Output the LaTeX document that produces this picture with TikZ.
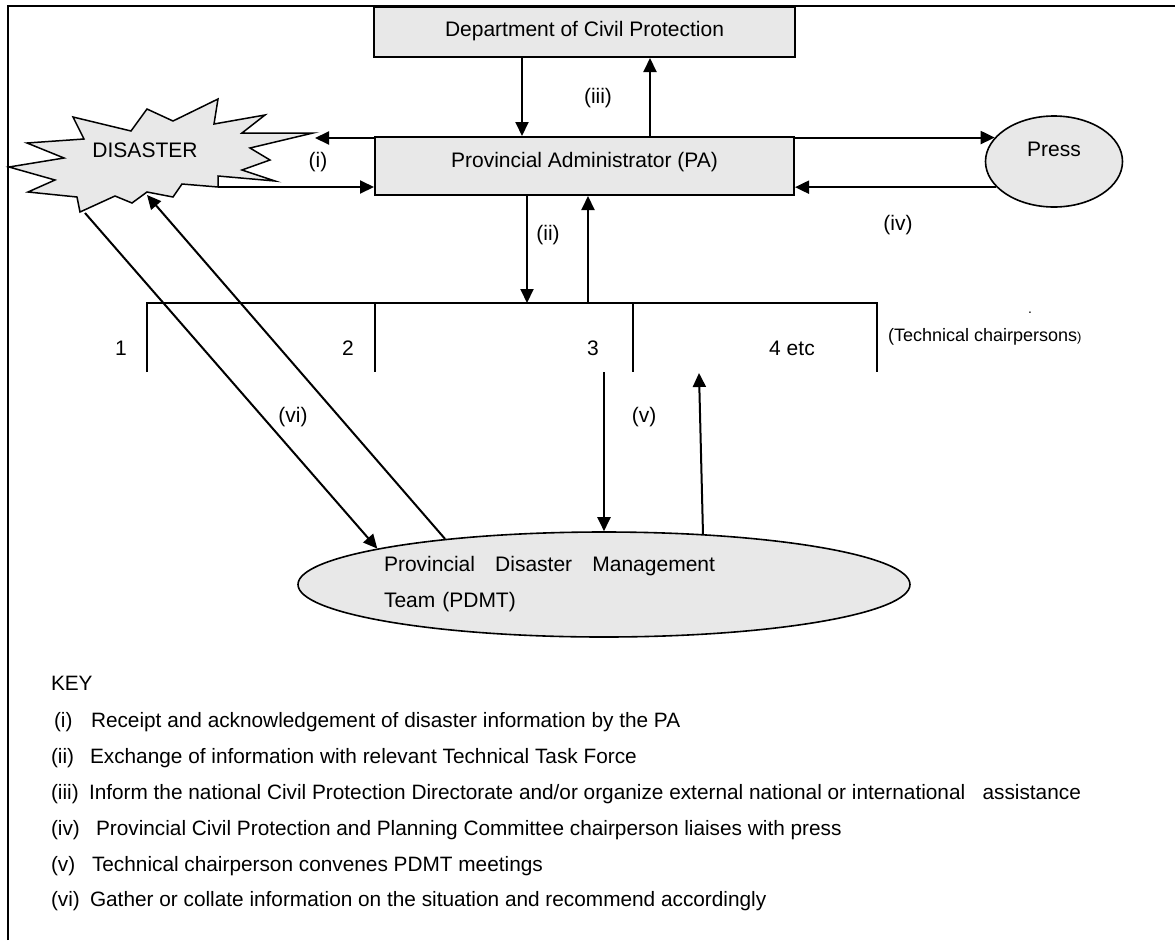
\documentclass[tikz,border=0pt]{standalone}
\usepackage{fontspec}
\setmainfont{Liberation Sans}
\usetikzlibrary{arrows.meta,shapes.geometric}
\definecolor{boxgray}{HTML}{E8E8E8}

\begin{document}
\begin{tikzpicture}[x=1pt,y=-1pt,
  line width=2pt,
  dtext/.style={font=\fontsize{21}{25}\selectfont},
  ktext/.style={font=\fontsize{20.8}{24}\selectfont, anchor=base west, inner sep=0pt},
  gbox/.style={draw, fill=boxgray, rectangle, inner sep=0pt, dtext},
  gell/.style={draw, fill=boxgray, ellipse, inner sep=0pt, line width=1.6pt, dtext},
  arr/.style={-{Triangle[length=14pt,width=13pt]}},
  lbl/.style={dtext, inner sep=0pt}
]
\useasboundingbox (0,0) rectangle (1175,940);

% frame (top and left edges only)
\draw (8,940) -- (8,6) -- (1175,6);

% boxes
\node[gbox, minimum width=421pt, text height=29.5pt, text depth=20.5pt]
  (dcp) at (584.5,32) {Department of Civil Protection};
\node[gbox, minimum width=419pt, text height=30.5pt, text depth=27.5pt]
  (pa) at (584.5,166) {Provincial Administrator (PA)};
\node[gell, minimum width=137pt, minimum height=91pt, text height=4pt, text depth=14pt]
  (press) at (1054,161.5) {Press};
\node[gell, minimum width=612pt, minimum height=105pt, text width=416pt, align=left,
  font=\fontsize{21}{36}\selectfont]
  (pdmt) at (604,584.5)
  {\hspace*{-12pt}\hbox to 331pt{Provincial\hfill Disaster\hfill Management}\\
   \hspace*{-12pt}Team (PDMT)};

% disaster starburst
\draw[fill=boxgray, line width=1.5pt, line join=miter]
  (9,167) -- (64,158) -- (27,143) -- (84,139) -- (73,117) -- (131,131)
  -- (147,109) -- (173,121) -- (218,99) -- (214,124) -- (265,115) -- (242,133)
  -- (313,133) -- (250,148) -- (270,160) -- (242,170) -- (275,181) -- (218,176)
  -- (218,187) -- (182,184) -- (173,197) -- (147,192) -- (132,203) -- (115,196)
  -- (80,212) -- (77,197) -- (28,192) -- (55,180) -- cycle;
\node[lbl] (dis) at (145,150) {DISASTER};

% anchor points
\coordinate (dR)  at (315,138);
\coordinate (dB)  at (218,187);
\coordinate (dBL) at (85,213);
\coordinate (dBot) at (147,195);
\coordinate (xa) at (522,0);
\coordinate (xb) at (650,0);
\coordinate (xc) at (527,0);
\coordinate (xd) at (588,0);
\coordinate (tl) at (147,303);
\coordinate (tr) at (877,303);
\coordinate (t2) at (375,303);
\coordinate (t3) at (633,303);
\coordinate (vd) at (604,372);
\coordinate (vu) at (699,373);

% chairperson bracket
\draw (147,372) -- (tl) -- (tr) -- (877,372);
\draw (t2) -- (375,372);
\draw (t3) -- (633,372);

% connectors
\draw[arr] (dcp.south -| xa) -- (pa.north -| xa);
\draw[arr] (pa.north -| xb) -- (dcp.south -| xb);
\draw[arr] (pa.west |- dR) -- (dR);
\draw[arr] (dB) -- (pa.west |- dB);
\draw[arr] (pa.east |- press.158.7) -- (press.158.7);
\draw[arr] (press.204.8) -- (pa.east |- press.204.8);
\draw[arr] (pa.south -| xc) -- (tl -| xc);
\draw[arr] (tl -| xd) -- (pa.south -| xd);
\draw[arr] (vd) -- (pdmt.north);
\draw[arr] (pdmt.27.7) -- (vu);
\draw[arr] (dBL) -- (pdmt.171);
\draw[arr] (pdmt.164.7) -- (dBot);

% connector labels
\node[lbl] (li)   at (318,162) {(i)};
\node[lbl] (lii)  at (548,235) {(ii)};
\node[lbl] (liii) at (598,98)  {(iii)};
\node[lbl] (liv)  at (898,225) {(iv)};
\node[lbl] (lv)   at (644,417) {(v)};
\node[lbl] (lvi)  at (293,417) {(vi)};

% bracket labels
\node[lbl] (n1) at (121,348) {1};
\node[lbl] (n2) at (348,348) {2};
\node[lbl] (n3) at (593,348) {3};
\node[lbl] (n4) at (792,348) {4 etc};
\node[lbl, font=\fontsize{18}{20}\selectfont, anchor=west] (tc) at (887,337)
  {(Technical chairpersons{\fontsize{13}{14}\selectfont)}};
\node[lbl, font=\fontsize{14}{16}\selectfont] (dot) at (1030,313) {.};

% key
\node[ktext] (key) at (50,690) {KEY};
\node[ktext] (k1a) at (53,727) {(i)};
\node[ktext] (k1b) at (90,727) {Receipt and acknowledgement of disaster information by the PA};
\node[ktext] (k2a) at (50,763) {(ii)};
\node[ktext] (k2b) at (89,763) {Exchange of information with relevant Technical Task Force};
\node[ktext] (k3a) at (50,799) {(iii)};
\node[ktext] (k3b) at (88,799) {Inform the national Civil Protection Directorate and/or organize external national or international\ \ \ assistance};
\node[ktext] (k4a) at (50,835) {(iv)};
\node[ktext] (k4b) at (95,835) {Provincial Civil Protection and Planning Committee chairperson liaises with press};
\node[ktext] (k5a) at (50,871) {(v)};
\node[ktext] (k5b) at (91,871) {Technical chairperson convenes PDMT meetings};
\node[ktext] (k6a) at (50,906) {(vi)};
\node[ktext] (k6b) at (89,906) {Gather or collate information on the situation and recommend accordingly};
\end{tikzpicture}
\end{document}
